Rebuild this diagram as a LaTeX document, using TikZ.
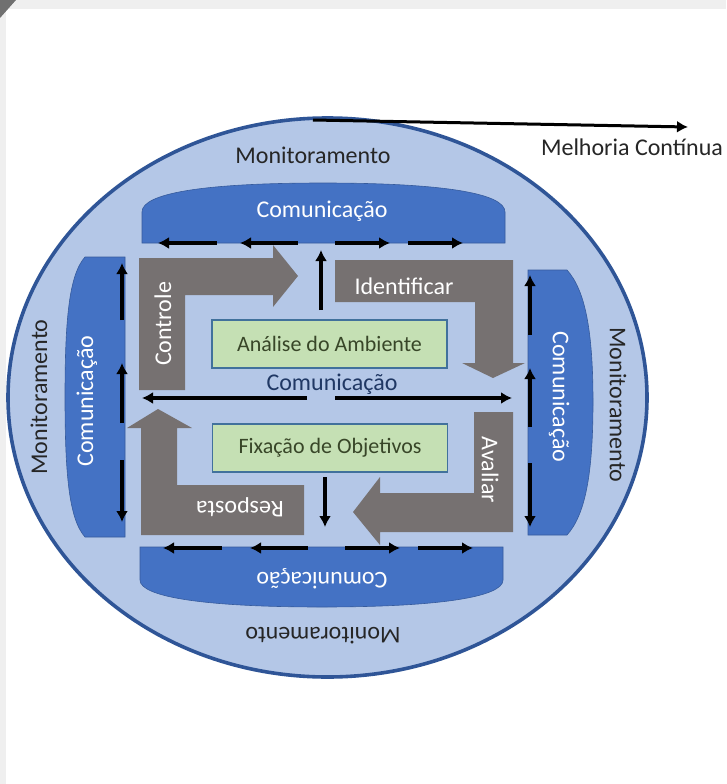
\documentclass[tikz,border=0pt]{standalone}
\usepackage{fontspec}
\setmainfont{Carlito}
\usetikzlibrary{arrows.meta,shapes.geometric}
\definecolor{ellfill}{RGB}{180,199,231}
\definecolor{elldraw}{RGB}{47,85,151}
\definecolor{bannerblue}{RGB}{68,114,196}
\definecolor{grayarrow}{RGB}{118,113,113}
\definecolor{greenbox}{RGB}{197,224,180}
\definecolor{greenborder}{RGB}{65,113,156}
\definecolor{greentext}{RGB}{56,70,40}
\definecolor{navytext}{RGB}{32,56,100}
\definecolor{darktext}{RGB}{38,38,38}
\definecolor{bggray}{RGB}{239,239,239}
\definecolor{cornergray}{RGB}{112,112,112}
\tikzset{
  lbl/.style={font=\fontsize{24}{28}\selectfont, inner sep=0pt, text=darktext},
  wlbl/.style={lbl, text=white},
  banner/.style={fill=bannerblue, draw=bannerblue!80!black, line width=0.6pt},
  grayshape/.style={fill=grayarrow},
  gbox/.style={draw=greenborder, line width=1.5pt, fill=greenbox, minimum width=235pt, minimum height=48pt, inner sep=0pt, font=\fontsize{22}{26}\selectfont, text=greentext},
  conn/.style={-{Latex[length=11pt,width=12pt]}, line width=3.4pt, black}
}
\begin{document}
\begin{tikzpicture}[x=1pt,y=-1pt]
\useasboundingbox (0,0) rectangle (726,784);
\fill[white] (0,0) rectangle (726,784);
\fill[bggray] (0,0) rectangle (726,9);
\fill[bggray] (0,0) rectangle (6,784);
\fill[cornergray] (0,0) -- (16,0) -- (0,18) -- cycle;

% outer ellipse
\node[ellipse, draw=elldraw, line width=3.6pt, fill=ellfill, minimum width=639pt, minimum height=559pt, inner sep=0pt] (ell) at (327.5,397.5) {};

% continuous improvement arrow
\coordinate (mcstart) at (313,120);
\coordinate (mcend) at (688,127);
\draw[conn, line width=3pt] (mcstart) -- (mcend);
\node[lbl] (melhoria) at (632,147) {Melhoria Contínua};

% monitoramento labels
\node[lbl] (montop) at (313,155) {Monitoramento};
\node[lbl, rotate=90] (monleft) at (39,397) {Monitoramento};
\node[lbl, rotate=-90] (monright) at (618,405) {Monitoramento};
\node[lbl, rotate=180] (monbot) at (323,636) {Monitoramento};

% banners
\path[banner] (142,243) -- (142,212) .. controls (142,193) and (205,183) .. (323,183) .. controls (441,183) and (505,193) .. (505,212) -- (505,243) -- cycle;
\path[banner] (140,547) -- (140,580) .. controls (140,597) and (205,607) .. (322,607) .. controls (439,607) and (503,597) .. (503,580) -- (503,547) -- cycle;
\path[banner] (125,257) -- (85,257) .. controls (69,275) and (65,320) .. (65,397) .. controls (65,474) and (69,519) .. (85,537) -- (125,537) -- cycle;
\path[banner] (528,270) -- (567,270) .. controls (585,290) and (593,330) .. (593,402) .. controls (593,475) and (585,515) .. (567,535) -- (528,535) -- cycle;

\node[wlbl] (comtop) at (322,211) {Comunicação};
\node[wlbl, rotate=180] (combot) at (322,579) {Comunicação};
\node[wlbl, rotate=90] (comleft) at (87,401) {Comunicação};
\node[wlbl, rotate=-90] (comright) at (559,397) {Comunicação};

% gray process arrows
\fill[grayshape] (139,390) -- (139,258) -- (273,258) -- (273,245) -- (298,276) -- (273,307) -- (273,295) -- (185,295) -- (185,390) -- cycle;
\fill[grayshape] (335,260) -- (513,260) -- (513,363) -- (525,363) -- (493,378) -- (462,363) -- (475,363) -- (475,302) -- (335,302) -- cycle;
\fill[grayshape] (474,412) -- (513,412) -- (513,532) -- (380,532) -- (380,545) -- (353,512) -- (380,477) -- (380,493) -- (474,493) -- cycle;
\fill[grayshape] (304,535) -- (141,535) -- (141,428) -- (127,428) -- (158,409) -- (192,428) -- (177,428) -- (177,485) -- (304,485) -- cycle;

\node[wlbl, rotate=90] (controle) at (163,324) {Controle};
\node[wlbl] (identificar) at (404,286) {Identificar};
\node[wlbl, rotate=-90] (avaliar) at (490,470) {Avaliar};
\node[wlbl, rotate=180] (resposta) at (240,507) {Resposta};

% green boxes
\node[gbox] (analise) at (329.5,344) {Análise do Ambiente};
\node[gbox] (fixacao) at (330,448) {Fixação de Objetivos};

% central communication
\node[lbl, text=navytext] (comcenter) at (332,384) {Comunicação};

% arrow endpoints
\coordinate (t1a) at (217,243); \coordinate (t1b) at (158,243);
\coordinate (t2a) at (298,243); \coordinate (t2b) at (240,243);
\coordinate (t3a) at (335,243); \coordinate (t3b) at (390,243);
\coordinate (t4a) at (408,243); \coordinate (t4b) at (463,243);
\coordinate (b1a) at (222,548); \coordinate (b1b) at (163,548);
\coordinate (b2a) at (308,548); \coordinate (b2b) at (250,548);
\coordinate (b3a) at (345,548); \coordinate (b3b) at (400,548);
\coordinate (b4a) at (418,548); \coordinate (b4b) at (473,548);
\coordinate (l1a) at (122,320); \coordinate (l1b) at (122,263);
\coordinate (l2a) at (122,423); \coordinate (l2b) at (122,363);
\coordinate (l3a) at (122,460); \coordinate (l3b) at (122,522);
\coordinate (r1a) at (530,335); \coordinate (r1b) at (530,275);
\coordinate (r2a) at (530,427); \coordinate (r2b) at (530,368);
\coordinate (r3a) at (530,463); \coordinate (r3b) at (530,527);
\coordinate (cla) at (307,398); \coordinate (clb) at (142,398);
\coordinate (cra) at (335,398); \coordinate (crb) at (512,398);
\coordinate (upa) at (321,310); \coordinate (upb) at (321,250);
\coordinate (dna) at (325,477); \coordinate (dnb) at (325,527);

\foreach \p in {t1,t2,t3,t4,b1,b2,b3,b4,l1,l2,l3,r1,r2,r3,cl,cr,up,dn}
  \draw[conn] (\p a) -- (\p b);
\end{tikzpicture}
\end{document}
